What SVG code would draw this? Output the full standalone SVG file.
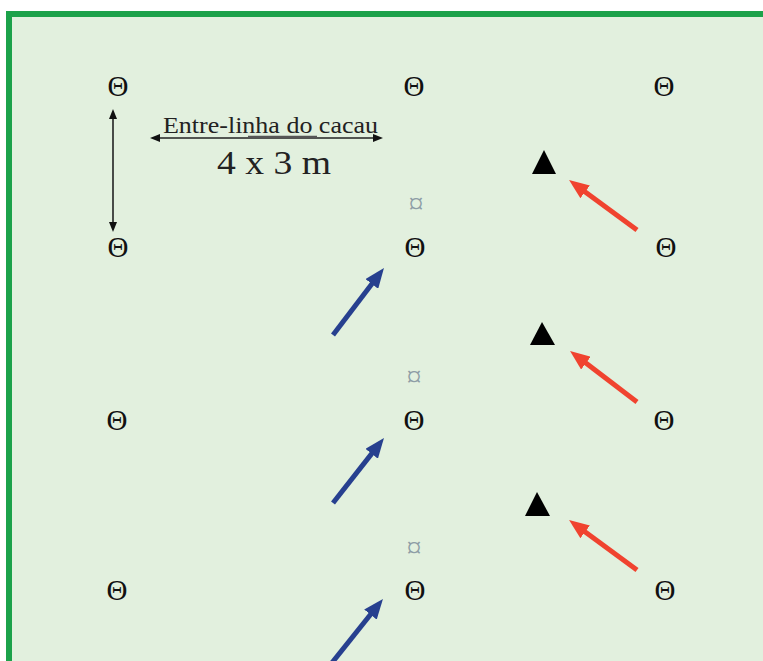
<svg xmlns="http://www.w3.org/2000/svg" width="763" height="661" viewBox="0 0 763 661">
<style>
.th{font-family:'Liberation Serif',serif;font-size:29px;fill:#111;text-anchor:middle}
.cu{font-family:'Liberation Serif',serif;font-size:30px;fill:#8e9ea6;text-anchor:middle}
.tri{fill:#000}
.blue{stroke:#27408f;stroke-width:5;fill:none;marker-end:url(#hb)}
.red{stroke:#f0432f;stroke-width:5;fill:none;marker-end:url(#hr)}
.dim{stroke:#222;stroke-width:1.6;fill:none;marker-start:url(#hk);marker-end:url(#hk)}
.lbl{font-family:'Liberation Serif',serif;fill:#222}
</style>
<defs>
<marker id="hb" markerUnits="userSpaceOnUse" markerWidth="20" markerHeight="16" refX="10" refY="8" orient="auto" viewBox="0 0 20 16"><path d="M0,0 L20,8 L0,16 z" fill="#27408f"/></marker>
<marker id="hr" markerUnits="userSpaceOnUse" markerWidth="20" markerHeight="16" refX="10" refY="8" orient="auto" viewBox="0 0 20 16"><path d="M0,0 L20,8 L0,16 z" fill="#f0432f"/></marker>
<marker id="hk" markerUnits="userSpaceOnUse" markerWidth="10" markerHeight="8" refX="5" refY="4" orient="auto-start-reverse" viewBox="0 0 10 8"><path d="M0,0 L10,4 L0,8 z" fill="#111"/></marker>
</defs>
<rect x="9" y="14" width="780" height="680" fill="#e2f0de" stroke="#1ca24a" stroke-width="6"/>

<g id="cacau-row1">
<text class="th" x="118" y="96">Θ</text>
<text class="th" x="414" y="96">Θ</text>
<text class="th" x="664" y="96">Θ</text>
</g>
<g id="cacau-row2">
<text class="th" x="118" y="257">Θ</text>
<text class="th" x="415" y="257">Θ</text>
<text class="th" x="666" y="257">Θ</text>
</g>
<g id="cacau-row3">
<text class="th" x="117" y="430">Θ</text>
<text class="th" x="414" y="430">Θ</text>
<text class="th" x="664" y="430">Θ</text>
</g>
<g id="cacau-row4">
<text class="th" x="117" y="600">Θ</text>
<text class="th" x="415" y="600">Θ</text>
<text class="th" x="665" y="600">Θ</text>
</g>
<g id="marks">
<text class="cu" x="416" y="213">¤</text>
<text class="cu" x="414" y="386">¤</text>
<text class="cu" x="414" y="557">¤</text>
</g>
<g id="triangles">
<polygon class="tri" points="544,150 532,174 556,174"/>
<polygon class="tri" points="542,322 530,345 555,345"/>
<polygon class="tri" points="537,492 525,516 550,516"/>
</g>
<g id="labels">
<text class="lbl" x="163" y="133" font-size="24" textLength="215" lengthAdjust="spacingAndGlyphs">Entre-linha do cacau</text>
<text class="lbl" x="217" y="174" font-size="34" textLength="114" lengthAdjust="spacingAndGlyphs">4 x 3 m</text>
</g>
<g id="connectors">
<line class="dim" x1="113" y1="114" x2="113" y2="227"/>
<line class="dim" x1="155" y1="138" x2="378" y2="138"/>
<line x1="248" y1="137" x2="317" y2="137" stroke="#555" stroke-width="2.5"/>
<line class="blue" x1="333" y1="335" x2="377.9" y2="276"/>
<line class="blue" x1="333" y1="503" x2="377.8" y2="445.9"/>
<line class="blue" x1="331" y1="664" x2="376.7" y2="606.8"/>
<line class="red" x1="637" y1="230" x2="577.1" y2="185.9"/>
<line class="red" x1="637" y1="402" x2="578" y2="357.1"/>
<line class="red" x1="637" y1="570" x2="577.1" y2="525.9"/>
</g>
</svg>
